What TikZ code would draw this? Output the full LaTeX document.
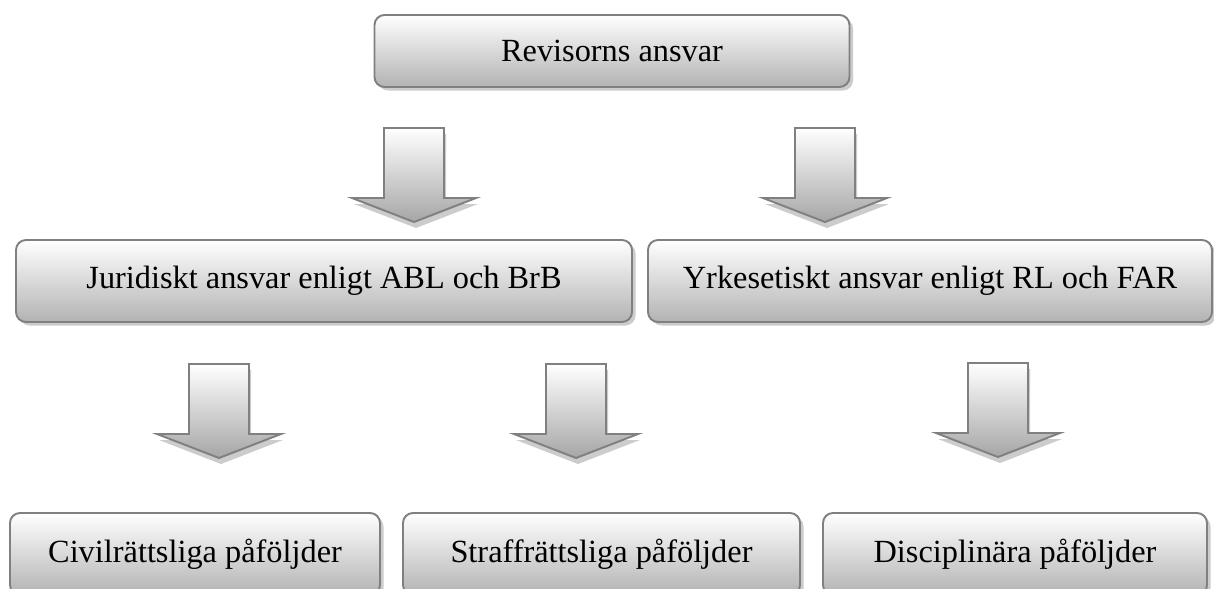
\documentclass[tikz,border=0pt]{standalone}
\usepackage{fontspec}
\setmainfont{Liberation Serif}
\usetikzlibrary{shadows}
\tikzset{
  box/.style={draw=black!50, line width=1.1pt, rounded corners=0.2cm,
    top color=white, bottom color=black!30,
    drop shadow={shadow xshift=0.07cm, shadow yshift=-0.07cm, fill=black!20, opacity=1},
    font=\fontsize{18.4}{22}\selectfont, text=black},
  blockarrow/.style={draw=black!50, line width=1.1pt, line join=miter,
    top color=white, bottom color=black!35,
    drop shadow={shadow xshift=0.04cm, shadow yshift=-0.12cm, fill=black!20, opacity=1}}
}
\newcommand{\blockdown}[1]{%
  \draw[blockarrow] ([xshift=-0.6cm]#1) -- ++(1.2,0) -- ++(0,-1.4) -- ++(0.64,0)
    -- ++(-1.24,-0.48) -- ++(-1.24,0.48) -- ++(0.64,0) -- cycle;}
\begin{document}
\begin{tikzpicture}
\useasboundingbox[fill=white] (0,0) rectangle (24.28,-11.78);

\node[box, minimum width=9.5cm, minimum height=1.44cm] (rev) at (12.24,-1.02) {Revisorns ansvar};

\node[box, minimum width=12.32cm, minimum height=1.64cm] (jur) at (6.48,-5.62) {Juridiskt ansvar enligt ABL och BrB};
\node[box, minimum width=11.28cm, minimum height=1.64cm] (yrk) at (18.6,-5.62) {Yrkesetiskt ansvar enligt RL och FAR};

\node[box, minimum width=7.4cm, minimum height=1.64cm] (civ) at (3.9,-11.08) {Civilrättsliga påföljder};
\node[box, minimum width=7.94cm, minimum height=1.64cm] (str) at (12.03,-11.08) {Straffrättsliga påföljder};
\node[box, minimum width=7.68cm, minimum height=1.64cm] (dis) at (20.3,-11.08) {Disciplinära påföljder};

\coordinate (a1) at (8.28,-2.56);
\coordinate (a2) at (16.5,-2.56);
\coordinate (a3) at (4.38,-7.28);
\coordinate (a4) at (11.52,-7.28);
\coordinate (a5) at (19.96,-7.26);

\blockdown{a1}
\blockdown{a2}
\blockdown{a3}
\blockdown{a4}
\blockdown{a5}
\end{tikzpicture}
\end{document}
